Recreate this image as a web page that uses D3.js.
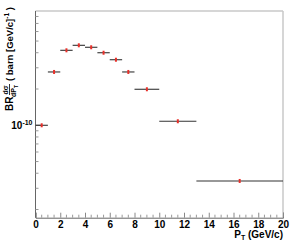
<!DOCTYPE html>
<html>
<head>
<meta charset="utf-8">
<script src="https://cdn.jsdelivr.net/npm/d3@7"></script>
<style>
body { margin: 0; background: #fff; }
text { font-family: "Liberation Sans", Arial, sans-serif; font-weight: bold; fill: #000; }
</style>
</head>
<body>
<script>
// bins in pT (GeV/c) and BR dsigma/dpT values (barn / GeV/c)
var binLow  = [0, 1, 2, 3, 4, 5, 6, 7, 8, 10, 13];
var binHigh = [1, 2, 3, 4, 5, 6, 7, 8, 10, 13, 20];
var values  = [1.0e-10, 2.77e-10, 4.19e-10, 4.61e-10, 4.44e-10, 4.0e-10, 3.5e-10, 2.77e-10, 1.99e-10, 1.08e-10, 3.45e-11];
var xTicks = [0, 2, 4, 6, 8, 10, 12, 14, 16, 18, 20];

var W = 293, H = 245;
var padL = 35.5, padR = 283, padT = 11, padB = 217.7;

var svg = d3.select("body").append("svg")
.attr("width", W)
.attr("height", H);

var x = d3.scaleLinear().domain([0, 20]).range([padL, padR]);
var y = d3.scaleLog().domain([1.71e-11, 8.88e-10]).range([padB, padT]);

// frame top / right (light grey)
svg.append("line")
.attr("x1", padL).attr("x2", padR).attr("y1", padT).attr("y2", padT)
.attr("stroke", "#c8c8c8").attr("stroke-width", 1.5);
svg.append("line")
.attr("x1", padR).attr("x2", padR).attr("y1", padT).attr("y2", padB)
.attr("stroke", "#c8c8c8").attr("stroke-width", 1.5);

// x axis
var xAxis = d3.axisBottom(x)
.tickValues(xTicks)
.tickSize(-5)
.tickPadding(3)
.tickFormat(d3.format("d"));
var gx = svg.append("g")
.attr("transform", "translate(0," + padB + ")")
.call(xAxis);
gx.select(".domain").attr("stroke", "#666");
gx.selectAll(".tick line").attr("stroke", "#888");
gx.selectAll(".tick text").attr("font-size", 10).attr("font-family", "Liberation Sans, Arial, sans-serif").attr("font-weight", "bold");

var minor = d3.range(0.5, 20, 0.5).filter(function(d) { return d % 2 != 0; });
gx.selectAll(".minor").data(minor).enter().append("line")
.attr("x1", function(d) { return x(d); })
.attr("x2", function(d) { return x(d); })
.attr("y1", 0).attr("y2", -3)
.attr("stroke", "#999");

// y axis
svg.append("line")
.attr("x1", padL).attr("x2", padL).attr("y1", padT).attr("y2", padB)
.attr("stroke", "#666");
var yMinor = [2e-11, 3e-11, 4e-11, 5e-11, 6e-11, 7e-11, 8e-11, 9e-11,
  2e-10, 3e-10, 4e-10, 5e-10, 6e-10, 7e-10, 8e-10];
svg.selectAll(".ymin").data(yMinor).enter().append("line")
.attr("x1", padL).attr("x2", padL + 3)
.attr("y1", function(d) { return y(d); })
.attr("y2", function(d) { return y(d); })
.attr("stroke", "#999");
svg.append("line")
.attr("x1", padL).attr("x2", padL + 6)
.attr("y1", y(1e-10)).attr("y2", y(1e-10))
.attr("stroke", "#777");
var lab = svg.append("text")
.attr("x", padL - 3).attr("y", y(1e-10) + 4)
.attr("text-anchor", "end")
.attr("font-size", 10);
lab.append("tspan").text("10");
lab.append("tspan").attr("dy", -4).attr("font-size", 7).text("-10");

// error bars + markers
var pts = values.map(function(v, i) { return { lo: binLow[i], hi: binHigh[i], v: v }; });
svg.selectAll(".err").data(pts).enter().append("line")
.attr("x1", function(d) { return x(d.lo); })
.attr("x2", function(d) { return x(d.hi); })
.attr("y1", function(d) { return y(d.v); })
.attr("y2", function(d) { return y(d.v); })
.attr("stroke", "#333")
.attr("stroke-width", 1.1);
svg.selectAll(".mk").data(pts).enter().append("rect")
.attr("x", function(d) { return x((d.lo + d.hi) / 2) - 1; })
.attr("y", function(d) { return y(d.v) - 2; })
.attr("width", 2).attr("height", 4)
.attr("fill", "#e8302a");

// x title
var xt = svg.append("text")
.attr("x", padR).attr("y", 237.5)
.attr("text-anchor", "end")
.attr("font-size", 10);
xt.append("tspan").text("P");
xt.append("tspan").attr("dy", 2).attr("font-size", 7).text("T");
xt.append("tspan").attr("dy", -2).text(" (GeV/c)");

// y title (rotated)
var yt = svg.append("g").attr("transform", "translate(12.5,111) rotate(-90)");
yt.append("text").attr("x", 0).attr("y", 0).attr("font-size", 10).text("BR");
yt.append("text").attr("x", 21).attr("y", -4.5).attr("font-size", 7).attr("text-anchor", "middle").text("dσ");
yt.append("line").attr("x1", 16).attr("x2", 27).attr("y1", -3).attr("y2", -3).attr("stroke", "#000").attr("stroke-width", 0.8);
var den = yt.append("text").attr("x", 20).attr("y", 3.5).attr("font-size", 7).attr("text-anchor", "middle");
den.append("tspan").text("dP");
den.append("tspan").attr("dy", 2).attr("font-size", 5).text("T");
var rest = yt.append("text").attr("x", 30).attr("y", 0).attr("font-size", 9.5);
rest.append("tspan").text("( barn [GeV/c]");
rest.append("tspan").attr("dy", -4).attr("font-size", 6.5).text("-1");
rest.append("tspan").attr("dy", 4).text(" )");
</script>
</body>
</html>
